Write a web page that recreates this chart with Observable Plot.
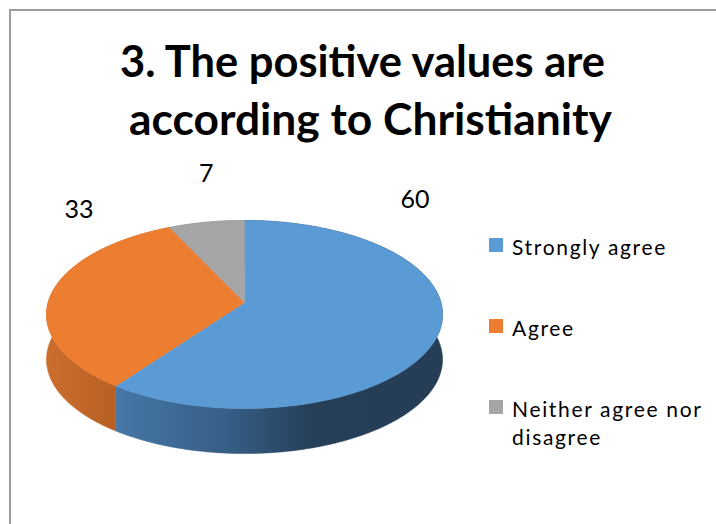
<!DOCTYPE html>
<html><head><meta charset="utf-8">
<script src="https://cdn.jsdelivr.net/npm/d3@7"></script>
<script src="https://cdn.jsdelivr.net/npm/@observablehq/plot@0.6"></script>
<style>
html,body{margin:0;padding:0;background:#fff;}
#wrap{position:relative;width:716px;height:524px;overflow:hidden;font-family:Lato,"Open Sans",sans-serif;background:#fff;}
#frame{position:absolute;left:9px;top:9px;width:800px;height:700px;border-left:2px solid #9c9c9c;border-top:2px solid #9c9c9c;}
#chart{position:absolute;left:0;top:0;}
.tl{position:absolute;white-space:nowrap;font-weight:700;font-size:43px;line-height:1.2;transform-origin:0 0;color:#000;}
.sw{position:absolute;width:14px;height:14px;}
.lt{position:absolute;font-size:21px;line-height:28px;color:#000;width:200px;}
</style></head><body>
<div id="wrap"><div id="frame"></div><div id="chart"></div><div id="title"></div><div id="legend"></div></div>
<script>
// ---- data ----
const titleLines = ["3. The positive values are", "according to Christianity"];
const categories = ["Strongly agree", "Agree", "Neither agree nor disagree"];
const values = [60, 33, 7];
const palette = ["#5b9bd5", "#ed7d31", "#a5a5a5"];
// label placement (polar, in normalised pie space): angle deg from top, radius
const labelAngles = [38, 320, 352];
const labelRadii = [1.41, 1.31, 1.40];

// ---- geometry (layout) ----
const W = 716, H = 524;
const CX = 244, CY = 302, RX = 196.4, RY = 92.5, K = 0.1277, DEPTH = 45;

const total = d3.sum(values);
let acc = 0;
const slices = categories.map((c, i) => {
  const a0 = acc / total * 360; acc += values[i];
  return {cat: c, value: values[i], i, a0, a1: acc / total * 360};
});
function proj(deg, r, h) {
  const t = deg * Math.PI / 180;
  const u = r * Math.sin(t), v = -r * Math.cos(t);
  const w = 1 - K * v;
  return {px: u / w, py: v / w + h * DEPTH / RY};
}
function arc(a0, a1, h) {
  const n = Math.max(2, Math.ceil((a1 - a0) / 0.5));
  const out = [];
  for (let j = 0; j <= n; j++) out.push(proj(a0 + (a1 - a0) * j / n, 1, h));
  return out;
}
const topPts = [], wallPts = [];
for (const s of slices) {
  topPts.push({cat: s.cat, ...proj(0, 0, 0)});
  for (const p of arc(s.a0, s.a1, 0)) topPts.push({cat: s.cat, ...p});
  const w = [...arc(s.a0, s.a1, 0), ...arc(s.a0, s.a1, 1).reverse()];
  for (const p of w) wallPts.push({cat: s.cat, i: s.i, ...p});
}
const labels = slices.map((s, i) => ({
  text: String(s.value),
  px: labelRadii[i] * Math.sin(labelAngles[i] * Math.PI / 180),
  py: -labelRadii[i] * Math.cos(labelAngles[i] * Math.PI / 180)
}));

const font = "Lato, 'Open Sans', sans-serif";
const chart = Plot.plot({
  width: W, height: H,
  marginTop: 0, marginRight: 0, marginBottom: 0, marginLeft: 0,
  style: {background: "transparent", overflow: "visible"},
  x: {domain: [-CX / RX, (W - CX) / RX], range: [0, W], axis: null},
  y: {domain: [-CY / RY, (H - CY) / RY], range: [0, H], axis: null},
  color: {domain: categories, range: palette},
  marks: [
    ...[2, 1, 0].map(i => Plot.line(wallPts.filter(d => d.i === i), {
      x: "px", y: "py", fill: `url(#wall${i})`, stroke: `url(#wall${i})`, strokeWidth: 0.6, curve: "linear-closed"
    })),
    Plot.line(topPts, {x: "px", y: "py", z: "cat", fill: "cat", stroke: "cat", strokeWidth: 0.6, curve: "linear-closed"}),
    Plot.text(labels, {x: "px", y: "py", text: "text", fontSize: 25, fill: "#000", fontFamily: font})
  ]
});
document.getElementById("chart").appendChild(chart);

// gradients for the side walls
const xs = chart.scale("x");
const defs = d3.select(chart).insert("defs", ":first-child");
const gradStops = [
  [[0, "#4677a6"], [0.35, "#365d85"], [0.6, "#263f58"], [1, "#253e56"]],
  [[0, "#ca6e2e"], [1, "#b86024"]],
  [[0, "#8a8a8a"], [1, "#7a7a7a"]]
];
const gradX = [
  [proj(216, 1, 0).px, 1.01],
  [-1.01, proj(216, 1, 0).px],
  [-0.5, 0]
];
gradStops.forEach((stops, i) => {
  const g = defs.append("linearGradient").attr("id", `wall${i}`).attr("gradientUnits", "userSpaceOnUse")
    .attr("x1", xs.apply(gradX[i][0])).attr("x2", xs.apply(gradX[i][1])).attr("y1", 0).attr("y2", 0);
  for (const [o, c] of stops) g.append("stop").attr("offset", o).attr("stop-color", c);
});

// title
const titleLeft = [120, 129], titleBase = [77, 135], titleWidth = [485, 483];
const tdiv = document.getElementById("title");
const tspans = titleLines.map((t, i) => {
  const el = document.createElement("div");
  el.className = "tl"; el.textContent = t;
  el.style.left = titleLeft[i] + "px";
  el.style.top = (titleBase[i] - 0.987 * 43) + "px";
  tdiv.appendChild(el);
  return el;
});

// legend
const color = chart.scale("color");
const legTop = [238, 319, 400];
const ldiv = document.getElementById("legend");
const ltexts = categories.map((c, i) => {
  const sw = document.createElement("div");
  sw.className = "sw"; sw.style.left = "489px"; sw.style.top = legTop[i] + "px";
  sw.style.background = color.apply(c);
  ldiv.appendChild(sw);
  const t = document.createElement("div");
  t.className = "lt"; t.textContent = c;
  t.style.left = "512px"; t.style.top = (legTop[i] + 17 - 22.1) + "px";
  ldiv.appendChild(t);
  return t;
});

function fit() {
  tspans.forEach((el, i) => {
    el.style.transform = "none";
    const w = el.getBoundingClientRect().width;
    el.style.transform = `scaleX(${titleWidth[i] / w})`;
  });
  // letter spacing for legend to match reference width of "Strongly agree" (155px)
  const probe = document.createElement("span");
  probe.style.cssText = "position:absolute;visibility:hidden;white-space:nowrap;font-size:21px;font-family:Lato,'Open Sans',sans-serif";
  probe.textContent = categories[0];
  document.body.appendChild(probe);
  const w0 = probe.getBoundingClientRect().width;
  probe.remove();
  const ls = (155 - w0) / categories[0].length;
  ltexts.forEach(t => t.style.letterSpacing = ls + "px");
}
fit();
if (document.fonts && document.fonts.ready) document.fonts.ready.then(fit);
</script>
</body></html>
